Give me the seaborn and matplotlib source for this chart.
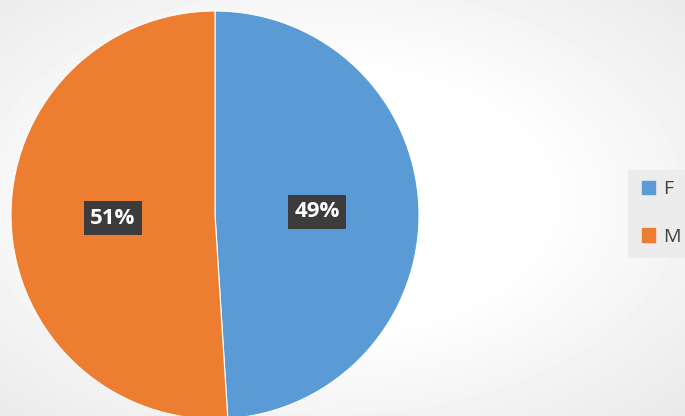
import numpy as np
import seaborn as sns
import matplotlib.pyplot as plt
from matplotlib.patches import Rectangle

sns.set_style("white")
plt.rcParams['font.family'] = ['Open Sans', 'DejaVu Sans']

labels = ["F", "M"]
shares = [49, 51]
colors = ["#5B9BD5", "#ED7D31"]

fig = plt.figure(figsize=(6.85, 4.16), dpi=100)

# radial grey background, white round the middle, greyer toward the right edge
bg = fig.add_axes([0, 0, 1, 1])
yy, xx = np.mgrid[0:416, 0:685]
r = np.hypot((xx - 330) / 685, (yy - 200) / 416)
shade = np.clip(1.0 - 0.2 * np.clip(r - 0.3, 0, None), 0.9, 1.0)
bg.imshow(shade, cmap="gray", vmin=0, vmax=1, aspect="auto")
bg.axis("off")

ax = fig.add_axes([11 / 685, -3 / 416, 408 / 685, 408 / 416])
wedges, _, autotexts = ax.pie(shares, colors=colors, startangle=90, counterclock=False,
                              autopct="%1.0f%%", pctdistance=0.5,
                              wedgeprops=dict(linewidth=0.8, edgecolor="white"))
for t in autotexts:
    t.set_color("white")
    t.set_fontsize(16)
    t.set_fontweight("bold")
    t.set_bbox(dict(boxstyle="square,pad=0.3", facecolor="#3c3c3c", edgecolor="none"))
ax.set_xlim(-1, 1)
ax.set_ylim(-1, 1)
ax.set_aspect("equal")

# legend
fig.patches.append(Rectangle((628 / 685, 1 - 258 / 416), 57 / 685, 88 / 416,
                             transform=fig.transFigure, facecolor="#ececec", edgecolor="none"))
handles = [Rectangle((0, 0), 1, 1, color=c) for c in colors]
fig.legend(handles, labels, loc="center left", bbox_to_anchor=(628 / 685, 1 - 213 / 416),
           frameon=False, fontsize=14, labelcolor="#404040", handlelength=0.7,
           handleheight=0.7, handletextpad=0.4, labelspacing=1.5, borderpad=0.2)

fig.savefig("out.png", dpi=100)
